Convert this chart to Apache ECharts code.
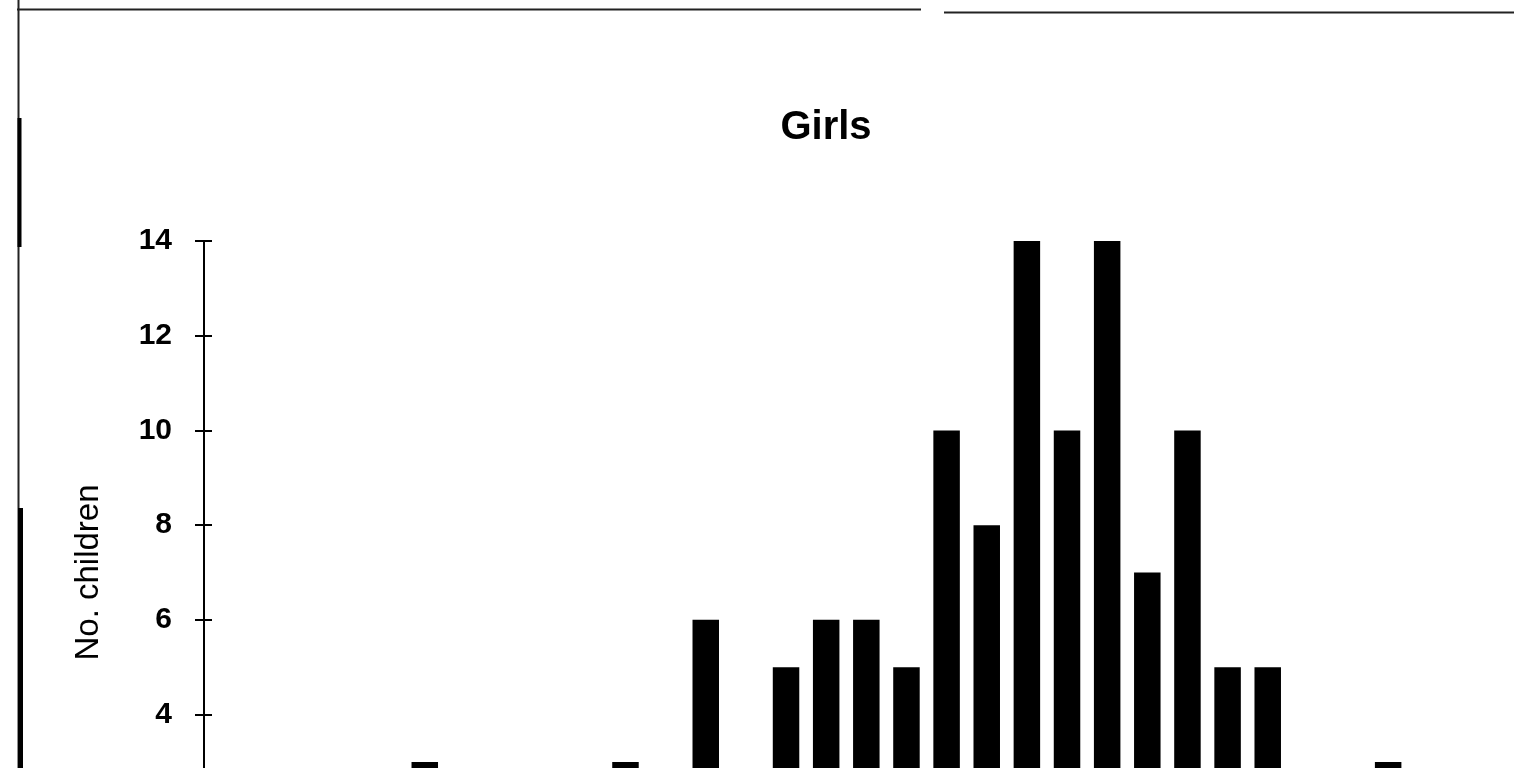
<!doctype html>
<html>
<head>
  <meta charset="utf-8">
  <title>Girls</title>
  <script src="https://cdn.jsdelivr.net/npm/echarts@6/dist/echarts.min.js"></script>
  <style>
    html, body { margin: 0; padding: 0; background: #fff; overflow: hidden; height: 768px; }
    #main { width: 1514px; height: 1000px; }
  </style>
</head>
<body>
  <div id="main"></div>
  <script>
    // categories (x axis is below the visible crop)
    var categories = ['1','2','3','4','5','6','7','8','9','10','11','12','13','14','15','16',
                      '17','18','19','20','21','22','23','24','25','26','27','28','29','30','31','32'];
    // number of children per class
    var girls = [0, 0, 0, 0, 0, 3, 0, 0, 0, 0, 3, 0, 6, 0, 5, 6,
                 6, 5, 10, 8, 14, 10, 14, 7, 10, 5, 5, 0, 0, 3, 0, 0];
    var yTicks = { min: 0, max: 14, step: 2 };

    var chart = echarts.init(document.getElementById('main'));
    var ink = '#000';

    var option = {
      animation: false,
      backgroundColor: '#fff',
      title: {
        text: 'Girls',
        left: 826,
        top: 128,
        padding: 0,
        textAlign: 'center',
        textVerticalAlign: 'middle',
        textStyle: { fontFamily: 'Liberation Sans', fontWeight: 'bold', fontSize: 40, color: ink }
      },
      grid: { left: 204, right: 25.5, top: 241, bottom: 96, containLabel: false },
      xAxis: {
        type: 'category',
        data: categories,
        axisLine: { lineStyle: { color: ink, width: 2 } },
        axisTick: { show: false },
        axisLabel: { color: ink, fontFamily: 'Liberation Sans', fontSize: 24 }
      },
      yAxis: [{
        type: 'value',
        min: yTicks.min, max: yTicks.max, interval: yTicks.step,
        name: 'No. children',
        nameLocation: 'middle',
        nameGap: 99,
        nameTextStyle: { fontFamily: 'Liberation Sans', fontSize: 33, color: ink },
        axisLine: { show: true, lineStyle: { color: ink, width: 2 } },
        axisTick: { show: true, length: 9, lineStyle: { color: ink, width: 2 } },
        axisLabel: { margin: 32, color: ink, fontFamily: 'Liberation Sans', fontWeight: 'bold', fontSize: 30 },
        splitLine: { show: false }
      }, {
        // inner half of the crossing ticks
        type: 'value',
        position: 'left',
        min: yTicks.min, max: yTicks.max, interval: yTicks.step,
        axisLine: { show: false },
        axisTick: { show: true, inside: true, length: 8, lineStyle: { color: ink, width: 2 } },
        axisLabel: { show: false },
        splitLine: { show: false }
      }],
      series: [{
        type: 'bar',
        data: girls,
        barWidth: '66%',
        itemStyle: { color: ink }
      }],
      graphic: [
        // page frame lines from the scan
        { type: 'line', shape: { x1: 17, y1: 9.5, x2: 921, y2: 9.5 }, style: { stroke: '#222', lineWidth: 2 } },
        { type: 'line', shape: { x1: 944, y1: 12.5, x2: 1514, y2: 12.5 }, style: { stroke: '#222', lineWidth: 2 } },
        { type: 'line', shape: { x1: 18.5, y1: 0, x2: 18.5, y2: 768 }, style: { stroke: '#222', lineWidth: 2 } },
        { type: 'line', shape: { x1: 19.5, y1: 118, x2: 19.5, y2: 247 }, style: { stroke: '#000', lineWidth: 4 } },
        { type: 'line', shape: { x1: 20.5, y1: 508, x2: 20.5, y2: 768 }, style: { stroke: '#000', lineWidth: 5 } }
      ]
    };

    chart.setOption(option);
  </script>
</body>
</html>
